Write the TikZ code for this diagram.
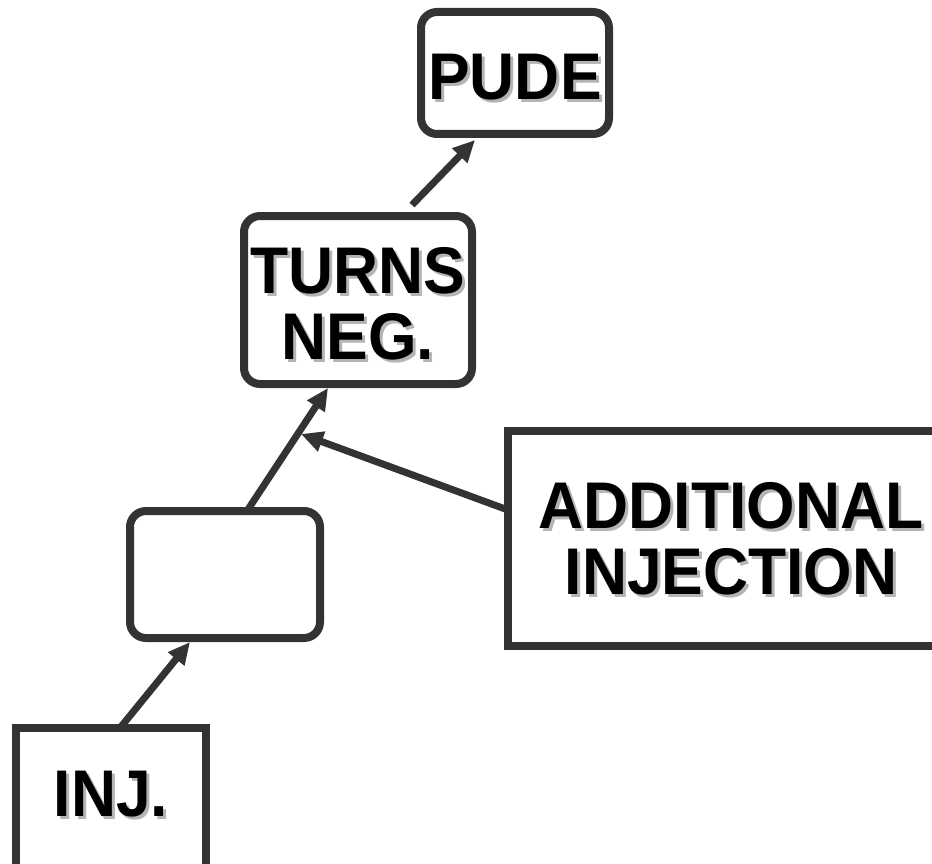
\documentclass[tikz,border=0pt]{standalone}
\usepackage{fontspec}
\newfontfamily\labelfont[FakeStretch=0.945]{Liberation Sans}
\usetikzlibrary{arrows.meta}
\definecolor{ink}{HTML}{333333}
\definecolor{shade}{HTML}{B4B4B4}
% a word with a light grey drop shadow below and to the right,
% optionally lowered without changing the box it reports
\newcommand\shadowword[2][0pt]{\leavevmode\raisebox{-#1}[\height][0pt]{\rlap{\hspace{3pt}\raisebox{-3pt}{\textcolor{shade}{#2}}}#2}}
\begin{document}
\begin{tikzpicture}[x=1pt,y=-1pt,
  txt/.style={font=\labelfont\bfseries\fontsize{66}{66}\selectfont, align=center, inner sep=0pt},
  rbox/.style={rectangle, draw=ink, line width=8pt, rounded corners=16pt, outer sep=0pt, txt},
  sbox/.style={rectangle, draw=ink, line width=8pt, outer sep=0pt, txt},
  link/.style={draw=ink, line width=7pt, -{Triangle[length=22pt,width=20pt]}}]
\useasboundingbox (0,0) rectangle (932,864);

% boxes
\node[rbox, minimum width=188pt, minimum height=122pt] (pude) at (515,73) {\shadowword[3.5pt]{PUDE}};
\node[rbox, minimum width=228pt, minimum height=168pt] (turns) at (358,300) {\shadowword[3pt]{TURNS}\\\shadowword[3pt]{NEG.}};
\node[rbox, minimum width=190pt, minimum height=127pt] (blank) at (225,574.5) {};
\node[sbox, minimum width=446pt, minimum height=215pt] (add) at (731,538.5) {\shadowword{ADDITIONAL}\\\shadowword{INJECTION}};
\node[sbox, minimum width=190pt, minimum height=170pt, anchor=north] (inj) at (111,728) {};
\node[txt] (injtext) at (111,794) {\shadowword{INJ.}};

% connectors
\coordinate (join) at (301,434);
\draw[link] ([xshift=9pt]inj.north) -- ([xshift=-35pt,yshift=-4pt]blank.south);
\draw[link] ([xshift=22pt]blank.north) -- ([xshift=-30pt,yshift=-4pt]turns.south);
\draw[link] ([yshift=28.5pt]add.west) -- (join);
\draw[link] ([xshift=54pt,yshift=11pt]turns.north) -- ([xshift=-40pt,yshift=-6pt]pude.south);
\end{tikzpicture}
\end{document}
